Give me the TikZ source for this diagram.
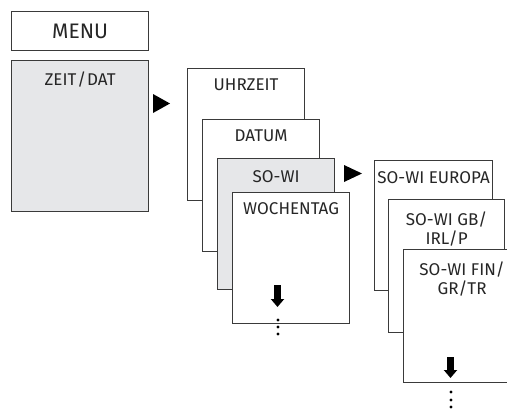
\documentclass[tikz,border=0pt]{standalone}
\usepackage{fontspec}
\setmainfont{Fira Sans}
\usetikzlibrary{arrows.meta}
\definecolor{cardline}{HTML}{3A3A3A}
\definecolor{cardgrey}{HTML}{E6E7E9}
\tikzstyle{card} = [rectangle, anchor=north west, inner sep=0pt, minimum width=117pt, draw=cardline, line width=1.2pt, fill=white]
\tikzstyle{greycard} = [card, fill=cardgrey]
\tikzstyle{caption} = [anchor=north, inner sep=0pt, align=center, text=black!85, font=\fontsize{17}{19}\selectfont]
\tikzstyle{down} = [line width=7pt, draw=black, -{Triangle[width=13pt,length=8pt]}]

\begin{document}
\begin{tikzpicture}[x=1pt, y=-1pt]
          \clip (0,0) rectangle (507,408); %
          \node (menu) [card, minimum width=137, minimum height=39] at (11,11)  {}; %
          \node (zeit) [greycard, minimum width=137, minimum height=151] at (11,60) {}; %
          \node (menutxt) [caption, anchor=center, font=\fontsize{21}{24}\selectfont] at (menu.center) {MENU}; %
          \node (zeittxt) [caption, yshift=-12] at (zeit.north) {ZEIT\kern1pt/\kern1pt DAT}; %

          %% Second level
          \node (uhr)  [card, minimum height=132]     at (187,68)  {}; %
          \node (dat)  [card, minimum height=132]     at (202,119) {}; %
          \node (sowi) [greycard, minimum height=131] at (217,158) {}; %
          \node (woch) [card, minimum height=131]     at (232,192) {}; %
          \node (uhrtxt)  [caption, yshift=-11] at (uhr.north)  {UHRZEIT}; %
          \node (dattxt)  [caption, yshift=-11] at (dat.north)  {DATUM}; %
          \node (sowitxt) [caption, yshift=-12] at (sowi.north) {SO-WI}; %
          \node (wochtxt) [caption, yshift=-10] at (woch.north) {WOCHENTAG}; %

          %% Third level
          \node (eur) [card, minimum width=118, minimum height=130] at (374,160) {}; %
          \node (gb)  [card, minimum width=116, minimum height=133] at (388,199) {}; %
          \node (fin) [card, minimum height=133]                    at (403,249) {}; %
          \node (eurtxt) [caption, yshift=-11] at (eur.north) {SO-WI EUROPA}; %
          \node (gbtxt)  [caption, yshift=-13] at (gb.north)  {SO-WI GB/\\IRL/P}; %
          \node (fintxt) [caption, yshift=-13] at (fin.north) {SO-WI FIN/\\GR/TR}; %

          %% Markers
          \fill (153,94)  -- (170,103.5) -- (153,113) -- cycle; %
          \fill (344,165) -- (362,173.5) -- (344,182) -- cycle; %
          \coordinate (wochtop) at (277.5,285); %
          \coordinate (wochtip) at (277.5,307); %
          \coordinate (fintop)  at (450.5,357); %
          \coordinate (fintip)  at (450.5,378); %
          \draw [down] (wochtop) -- (wochtip); %
          \draw [down] (fintop)  -- (fintip); %
          \foreach \y in {320,327,334} \fill (278,\y) circle (1.6); %
          \foreach \y in {392,400,407} \fill (451,\y) circle (1.6); %
        \end{tikzpicture}
\end{document}
